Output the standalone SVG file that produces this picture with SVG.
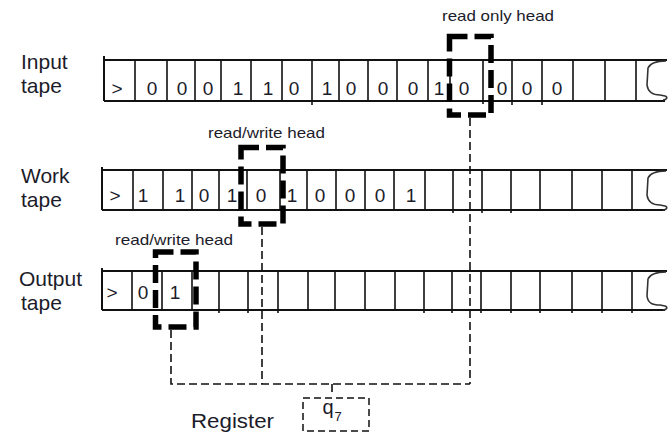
<svg xmlns="http://www.w3.org/2000/svg" width="671" height="434" viewBox="0 0 671 434">
<style>
.lbl{font-family:"Liberation Sans",Arial,sans-serif;font-size:21px;fill:#1c1c2a}
.hl{font-family:"Liberation Sans",Arial,sans-serif;font-size:15px;fill:#1c1c2a}
.dg{font-family:"Liberation Sans",Arial,sans-serif;font-size:19px;fill:#1c1c2a;text-anchor:middle}
.edge{fill:none;stroke:#111;stroke-width:2}
.div{fill:none;stroke:#111;stroke-width:1.6}
.curl{fill:none;stroke:#333;stroke-width:1.6;stroke-linejoin:round}
.head{fill:none;stroke:#000;stroke-width:5.5;stroke-dasharray:18,7}
.conn{fill:none;stroke:#111;stroke-width:1.6;stroke-dasharray:8,4}
.reg{fill:none;stroke:#111;stroke-width:1.5;stroke-dasharray:7,4}
</style>
<rect width="671" height="434" fill="#fff"/>

<g id="input-tape">
<text class="lbl" x="21" y="69">Input</text>
<text class="lbl" x="21" y="93">tape</text>
<path class="edge" d="M104,60 H667 M104,101 H665 M104,56 V101"/>
<path class="div" d="M135,60V101 M167,60V101 M195,60V101 M221,60V101 M251,60V101 M282,60V101 M312,60V105 M339,60V101 M368,60V101 M397,60V101 M428,60V101 M450,60V101 M483,60V104 M512,60V105 M542,60V105 M573,60V101 M605,60V101 M636,60V101"/>
<path class="curl" d="M666,61 C656,61 650,63 648,68 L647,85 C648,92 652,95 660,95 L665,96 C668,97 667,100 663,100"/>
<text class="dg" x="117" y="95">&gt;</text>
<text class="dg" x="152" y="95">0</text>
<text class="dg" x="182" y="95">0</text>
<text class="dg" x="208" y="95">0</text>
<text class="dg" x="238" y="95">1</text>
<text class="dg" x="268" y="95">1</text>
<text class="dg" x="294" y="95">0</text>
<text class="dg" x="327" y="95">1</text>
<text class="dg" x="351" y="95">0</text>
<text class="dg" x="383" y="95">0</text>
<text class="dg" x="413" y="95">0</text>
<text class="dg" x="439" y="95">1</text>
<text class="dg" x="464" y="95">0</text>
<text class="dg" x="502" y="95">0</text>
<text class="dg" x="527" y="95">0</text>
<text class="dg" x="557" y="95">0</text>
</g>

<g id="work-tape">
<text class="lbl" x="21" y="183">Work</text>
<text class="lbl" x="21" y="207">tape</text>
<path class="edge" d="M102,170 H667 M102,210 H665 M102,167 V210"/>
<path class="div" d="M133,170V210 M163,170V210 M192,170V210 M219,170V210 M247,170V210 M280,170V210 M307,170V210 M336,170V210 M365,170V210 M394,170V210 M425,170V210 M453,170V213 M482,170V213 M511,170V213 M540,170V210 M572,170V210 M602,170V210 M632,170V210"/>
<path class="curl" d="M666,171 C656,171 650,173 648,178 L647,195 C648,202 652,205 660,205 L665,206 C668,207 667,210 663,210"/>
<text class="dg" x="115" y="202">&gt;</text>
<text class="dg" x="143" y="202">1</text>
<text class="dg" x="180" y="202">1</text>
<text class="dg" x="204" y="202">0</text>
<text class="dg" x="232" y="202">1</text>
<text class="dg" x="261" y="202">0</text>
<text class="dg" x="292" y="202">1</text>
<text class="dg" x="320" y="202">0</text>
<text class="dg" x="350" y="202">0</text>
<text class="dg" x="380" y="202">0</text>
<text class="dg" x="411" y="202">1</text>
</g>

<g id="output-tape">
<text class="lbl" x="19" y="286">Output</text>
<text class="lbl" x="21" y="310">tape</text>
<path class="edge" d="M102,271 H667 M102,310 H665 M102,268 V310"/>
<path class="div" d="M132,271V310 M162,271V310 M192,271V310 M219,271V313 M248,271V313 M278,271V313 M308,271V310 M335,271V310 M365,271V310 M395,271V310 M424,271V313 M452,271V313 M481,271V313 M511,271V313 M540,271V313 M572,271V313 M602,271V313 M632,271V313"/>
<path class="curl" d="M666,272 C656,272 650,274 648,279 L647,296 C648,303 652,305 660,305 L665,306 C668,307 667,310 663,310"/>
<text class="dg" x="112" y="299">&gt;</text>
<text class="dg" x="143" y="299">0</text>
<text class="dg" x="175" y="299">1</text>
</g>

<g id="connectors">
<path class="conn" d="M171,330 V384 H470 M262,227 V384 M470,118 V384 M332,384 V396"/>
</g>

<g id="input-head">
<text class="hl" x="442" y="21" textLength="112" lengthAdjust="spacingAndGlyphs">read only head</text>
<rect class="head" x="449.5" y="36.5" width="41.5" height="78.5"/>
</g>

<g id="work-head">
<text class="hl" x="208" y="138" textLength="117" lengthAdjust="spacingAndGlyphs">read/write head</text>
<rect class="head" x="241" y="147.5" width="42" height="76.5"/>
</g>

<g id="output-head">
<text class="hl" x="115" y="245" textLength="118" lengthAdjust="spacingAndGlyphs">read/write head</text>
<rect class="head" x="155.5" y="252" width="40.5" height="75"/>
</g>

<g id="register">
<text class="lbl" x="191" y="428" textLength="83" lengthAdjust="spacingAndGlyphs">Register</text>
<rect class="reg" x="303" y="398" width="66" height="33"/>
<text class="dg" x="328" y="414" style="font-size:20px">q</text>
<text class="dg" x="338" y="421" style="font-size:13px">7</text>
</g>
</svg>
